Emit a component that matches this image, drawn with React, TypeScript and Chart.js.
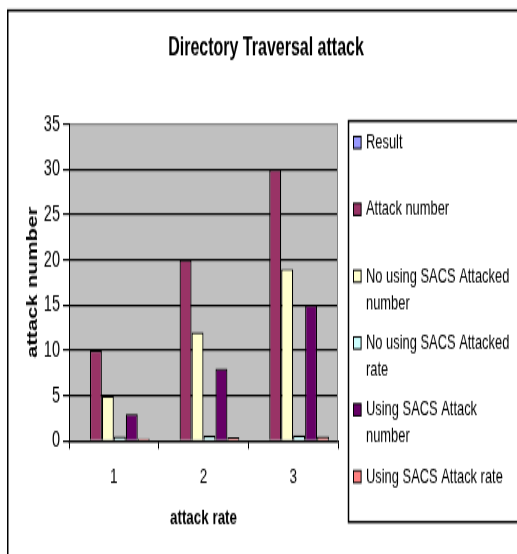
import React, { useEffect, useRef } from 'react';
import { Chart, registerables } from 'chart.js';

Chart.register(...registerables);

// ---- chart data ----
const categories = ['1', '2', '3'];
const seriesNames = [
  'Result',
  'Attack number',
  'No using SACS Attacked number',
  'No using SACS Attacked rate',
  'Using SACS Attack number',
  'Using SACS Attack rate',
];
const resultValues = [0, 0, 0];
const attackNumber = [10, 20, 30];
const noSacsAttackedNumber = [5, 12, 19];
const noSacsAttackedRate = [0.5, 0.6, 0.63];
const sacsAttackNumber = [3, 8, 15];
const sacsAttackRate = [0.3, 0.4, 0.5];
const seriesColors = ['#9999FF', '#993366', '#FFFFCC', '#CCFFFF', '#660066', '#FF8080'];
const yMin = 0;
const yMax = 35;
const yStep = 5;
const chartTitle = 'Directory Traversal attack';
const xTitle = 'attack rate';
const yTitle = 'attack number';

// ---- drawing surface: drawn at W x H, then stretched vertically to 554px ----
const W = 517;
const H = 351;
const SY = 554 / H;
const FONT = "'Liberation Sans', Arial, Helvetica, sans-serif";

// plot frame (final page pixels)
const PLOT_LEFT = 69;
const PLOT_RIGHT = 338;
const PLOT_TOP = 124 / SY;
const PLOT_BOTTOM = 441 / SY;

// legend frame
const LEGEND_LEFT = 348.5;
const LEGEND_TOP = 121 / SY;
const LEGEND_BOTTOM = 522 / SY;
const LEGEND_FONT = 12.9;
const LEGEND_TEXT_X = 366;
const LEGEND_WRAP = 150;

function wrapText(ctx: CanvasRenderingContext2D, text: string, maxWidth: number): string[] {
  const words = text.split(' ');
  const lines: string[] = [];
  let line = '';
  for (const w of words) {
    const trial = line ? line + ' ' + w : w;
    if (line && ctx.measureText(trial).width > maxWidth) {
      lines.push(line);
      line = w;
    } else {
      line = trial;
    }
  }
  if (line) lines.push(line);
  return lines;
}

const framePlugin = {
  id: 'frameAndLegend',
  beforeDraw(chart: any) {
    const { ctx, chartArea: a } = chart;
    ctx.save();
    ctx.fillStyle = '#ffffff';
    ctx.fillRect(0, 0, chart.width, chart.height);
    ctx.fillStyle = '#C0C0C0';
    ctx.fillRect(a.left, a.top, a.right - a.left, a.bottom - a.top);
    ctx.restore();
  },
  afterDraw(chart: any) {
    const { ctx, chartArea: a } = chart;
    ctx.save();

    // right edge of the plot area
    ctx.strokeStyle = '#808080';
    ctx.lineWidth = 1;
    ctx.beginPath();
    ctx.moveTo(a.right - 0.5, a.top);
    ctx.lineTo(a.right - 0.5, a.bottom);
    ctx.stroke();

    // outer chart border
    ctx.strokeStyle = '#000';
    ctx.lineWidth = 1.5;
    ctx.strokeRect(7.75, 6.6, 560, 400);

    // title
    ctx.fillStyle = '#000';
    ctx.font = `bold 16px ${FONT}`;
    ctx.textAlign = 'center';
    ctx.textBaseline = 'middle';
    ctx.fillText(chartTitle, 266, 48 / SY);

    // legend box
    ctx.lineWidth = 1.5;
    ctx.strokeStyle = '#000';
    ctx.strokeRect(LEGEND_LEFT, LEGEND_TOP, 300, LEGEND_BOTTOM - LEGEND_TOP);

    const ds = chart.data.datasets;
    const slot = (LEGEND_BOTTOM - LEGEND_TOP) / ds.length;
    const firstLine = 21.5 / SY;
    const lineGap = 27 / SY;
    ctx.font = `${LEGEND_FONT}px ${FONT}`;
    ctx.textAlign = 'left';
    ctx.textBaseline = 'middle';
    ds.forEach((d: any, i: number) => {
      const y0 = LEGEND_TOP + slot * i + firstLine;
      const sw = 7.6;
      const sh = 12 / SY;
      ctx.fillStyle = d.backgroundColor;
      ctx.fillRect(353.5, y0 - sh / 2, sw, sh);
      ctx.strokeStyle = '#000';
      ctx.lineWidth = 1;
      ctx.strokeRect(353.5, y0 - sh / 2, sw, sh);
      ctx.fillStyle = '#000';
      const lines = wrapText(ctx, d.label, LEGEND_WRAP);
      lines.forEach((ln, k) => ctx.fillText(ln, LEGEND_TEXT_X, y0 + k * lineGap));
    });

    ctx.restore();
  },
};

const seriesValues = [
  resultValues,
  attackNumber,
  noSacsAttackedNumber,
  noSacsAttackedRate,
  sacsAttackNumber,
  sacsAttackRate,
];

export default function App() {
  const canvasRef = useRef<HTMLCanvasElement>(null);

  useEffect(() => {
    Chart.defaults.font.family = FONT;
    Chart.defaults.color = '#000';
    const chart = new Chart(canvasRef.current as HTMLCanvasElement, {
      type: 'bar',
      data: {
        labels: categories,
        datasets: seriesNames.map((name, i) => ({
          label: name,
          data: seriesValues[i],
          backgroundColor: seriesColors[i],
          borderColor: '#000',
          borderWidth: 1.2,
          categoryPercentage: 0.8,
          barPercentage: 1.0,
        })),
      },
      options: {
        responsive: false,
        animation: false,
        devicePixelRatio: 1,
        layout: {
          padding: { top: PLOT_TOP, right: W - PLOT_RIGHT, left: 0, bottom: 0 },
        },
        plugins: {
          legend: { display: false },
          title: { display: false },
          tooltip: { enabled: false },
        },
        scales: {
          x: {
            grid: {
              display: true,
              drawOnChartArea: false,
              drawTicks: true,
              tickLength: 5,
              color: '#000',
              tickColor: '#000',
              offset: true,
            },
            border: { display: true, color: '#000', width: 1.2 },
            ticks: { padding: 9.8, color: '#000', font: { size: 13.6 } },
            title: {
              display: true,
              text: xTitle,
              color: '#000',
              font: { size: 13.4, weight: 'bold' },
              padding: { top: 0, bottom: 14.2 },
            },
            afterFit: (s: any) => {
              s.height = H - PLOT_BOTTOM;
            },
          },
          y: {
            min: yMin,
            max: yMax,
            ticks: { stepSize: yStep, padding: 3, color: '#000', font: { size: 14.5 } },
            grid: {
              color: (c: any) => (c.tick && c.tick.value === yMax ? '#808080' : '#000'),
              tickColor: '#000',
              lineWidth: 1.2,
              tickLength: 6,
              drawTicks: true,
            },
            border: { display: true, color: '#000', width: 1 },
            title: {
              display: true,
              text: yTitle,
              color: '#000',
              font: { size: 14, weight: 'bold' },
              padding: { top: 24.6, bottom: 0 },
            },
            afterFit: (s: any) => {
              s.width = PLOT_LEFT;
            },
          },
        },
      },
      plugins: [framePlugin],
    } as any);
    return () => chart.destroy();
  }, []);

  return (
    <div
      style={{
        position: 'fixed',
        left: 0,
        top: 0,
        width: 517,
        height: 554,
        overflow: 'hidden',
        background: '#fff',
      }}
    >
      <div style={{ width: W, height: H, transform: `scale(1, ${SY})`, transformOrigin: '0 0' }}>
        <canvas ref={canvasRef} width={W} height={H} style={{ display: 'block', width: W, height: H }} />
      </div>
    </div>
  );
}
